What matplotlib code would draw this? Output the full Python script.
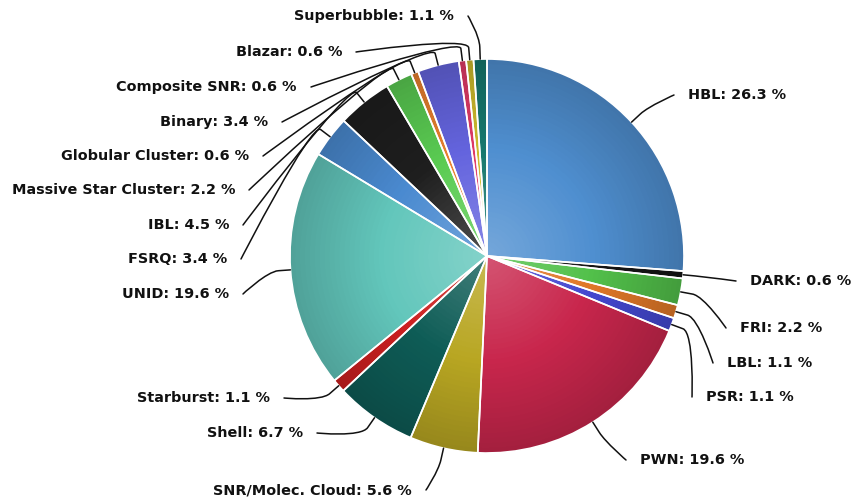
import numpy as np
import matplotlib
matplotlib.use("Agg")
import matplotlib.pyplot as plt
from matplotlib.path import Path
from matplotlib.patches import PathPatch
from matplotlib.colors import to_rgb

categories = ["HBL", "DARK", "FRI", "LBL", "PSR", "PWN", "SNR/Molec. Cloud",
              "Shell", "Starburst", "UNID", "FSRQ", "IBL", "Massive Star Cluster",
              "Globular Cluster", "Binary", "Composite SNR", "Blazar", "Superbubble"]
percent = [26.3, 0.6, 2.2, 1.1, 1.1, 19.6, 5.6, 6.7, 1.1, 19.6, 3.4, 4.5, 2.2,
           0.6, 3.4, 0.6, 0.6, 1.1]
colors = ["#4f8fd0", "#151515", "#52c04a", "#e07828", "#4448d0", "#c8264c",
          "#b8a622", "#0e5c56", "#cc2020", "#62c6bb", "#4a8ad0", "#1e1e1e",
          "#5acb52", "#e8802e", "#6464de", "#e03a66", "#cdbb2c", "#16786e"]

# label layout (pixel coords in 858x499 image): x, y, side
label_pos = [(688, 95, "L"), (750, 281, "L"), (740, 328, "L"), (727, 363, "L"),
             (706, 397, "L"), (640, 460, "L"), (412, 490, "R"), (303, 433, "R"),
             (270, 398, "R"), (229, 294, "R"), (227, 259, "R"), (229, 225, "R"),
             (235, 190, "R"), (249, 156, "R"), (268, 122, "R"), (297, 87, "R"),
             (342, 52, "R"), (454, 16, "R")]

W, H = 858, 499
fig = plt.figure(figsize=(W / 100, H / 100), dpi=100)
ax = fig.add_axes([0, 0, 1, 1])

cx, cy, R = 487, H - 256, 197

def mix(c, t, target):
    c = np.array(to_rgb(c)); target = np.array(target)
    return tuple(c + (target - c) * t)

# radial gradient: lighter centre, darker rim
N = 40
for i in range(N):
    frac = 1 - i / N
    r = R * frac
    cols = []
    for c in colors:
        if frac > 0.55:
            cols.append(mix(c, (frac - 0.55) / 0.45 * 0.18, (0, 0, 0)))
        else:
            cols.append(mix(c, (0.55 - frac) / 0.55 * 0.22, (1, 1, 1)))
    ax.pie(percent, colors=cols, startangle=90, counterclock=False,
           center=(cx, cy), radius=r, wedgeprops=dict(linewidth=0),
           frame=True)
# white separators
ax.pie(percent, colors=["none"] * len(percent), startangle=90, counterclock=False,
       center=(cx, cy), radius=R,
       wedgeprops=dict(linewidth=1.2, edgecolor="white", facecolor="none"),
       frame=True)
ax.set_xlim(0, W)
ax.set_ylim(0, H)
ax.set_aspect("equal")
ax.axis("off")

total = sum(percent)
cum = 0.0
for name, v, (lx, ly, side) in zip(categories, percent, label_pos):
    mid = np.deg2rad(90 - 360 * (cum + v / 2) / total)
    cum += v
    d = np.array([np.cos(mid), np.sin(mid)])
    edge = np.array([cx, cy]) + R * d
    brk = np.array([cx, cy]) + (R + 12) * d
    ctrl = np.array([cx, cy]) + (R + 24) * d
    y = H - ly
    if side == "L":
        anchor = np.array([lx - 14, y])
        ha = "left"
    else:
        anchor = np.array([lx + 14, y])
        ha = "right"
    verts = [tuple(anchor), tuple(anchor), tuple(ctrl), tuple(brk), tuple(edge)]
    codes = [Path.MOVETO, Path.CURVE4, Path.CURVE4, Path.CURVE4, Path.LINETO]
    ax.add_patch(PathPatch(Path(verts, codes), facecolor="none",
                           edgecolor="#111111", lw=1.1, capstyle="round"))
    ax.text(lx, y, f"{name}: {v} %", ha=ha, va="center", fontsize=10.4,
            fontweight="bold", color="#111111", family="DejaVu Sans")

fig.savefig("out.png", dpi=100)
